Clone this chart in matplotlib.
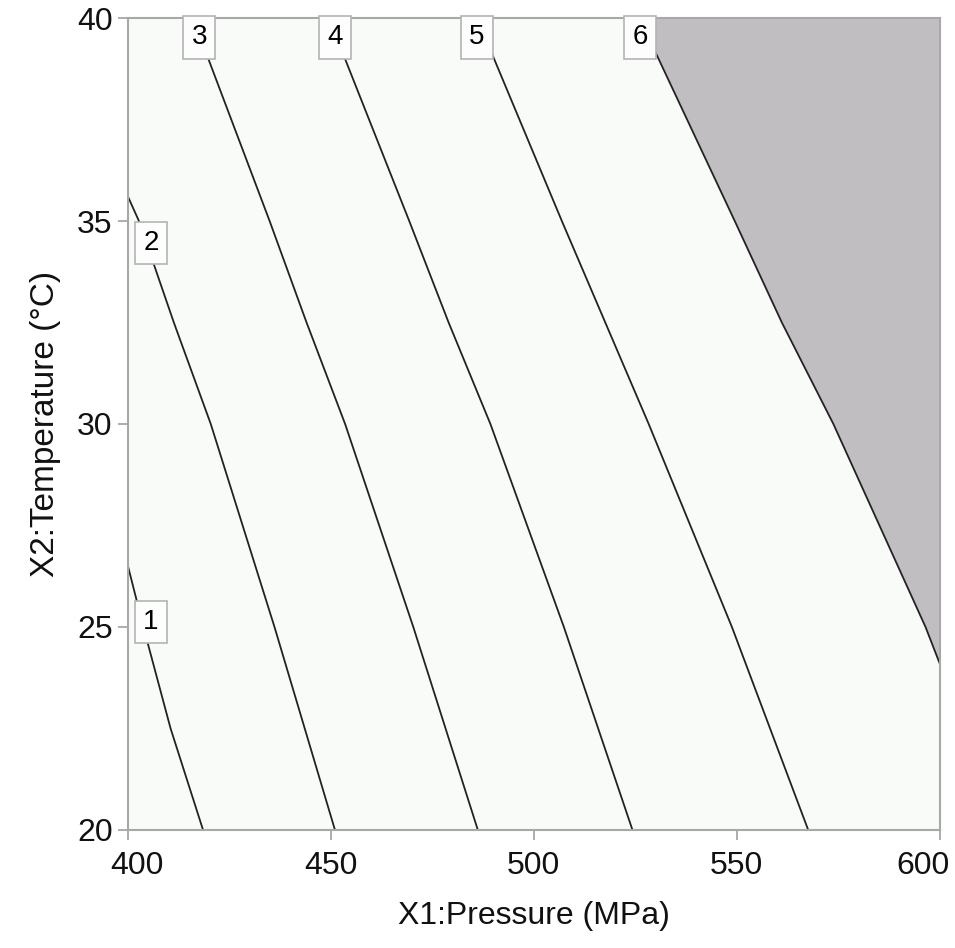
import matplotlib.pyplot as plt
import matplotlib.transforms as mtransforms

# Contour lines: temperature (y) and pressure (x) pairs
levels = [1, 2, 3, 4, 5, 6]

y1 = [26.5, 25.0, 22.5, 20.0]
x1 = [400.0, 403.8, 410.5, 418.5]

y2 = [35.6, 35.0, 32.5, 30.0, 25.0, 20.0]
x2 = [400.0, 402.7, 411.3, 420.4, 436.1, 451.0]

y3 = [40.0, 35.0, 32.5, 30.0, 25.0, 20.0]
x3 = [416.0, 434.9, 444.0, 453.5, 470.3, 486.2]

y4 = [40.0, 35.0, 32.5, 30.0, 25.0, 20.0]
x4 = [449.5, 469.3, 479.0, 489.3, 507.4, 524.3]

y5 = [40.0, 35.0, 32.5, 30.0, 25.0, 20.0]
x5 = [486.0, 506.9, 517.6, 528.3, 548.8, 567.6]

y6 = [40.0, 35.0, 32.5, 30.0, 25.0, 24.1]
x6 = [526.0, 549.5, 561.1, 573.8, 596.5, 600.0]

# label positions (pressure, temperature)
label_x = [405.7, 405.7, 417.6, 451.0, 486.0, 526.2]
label_y = [25.12, 34.46, 39.52, 39.52, 39.52, 39.52]

xticks = [400, 450, 500, 550, 600]
yticks = [20, 25, 30, 35, 40]

plt.rcParams['font.family'] = ['Liberation Sans', 'DejaVu Sans']

fig = plt.figure(figsize=(9.55, 9.48), dpi=100)
ax = fig.add_axes([0.134, 0.1245, 0.850, 0.8565])
ax.set_facecolor('#f9fbf9')

# shaded region beyond contour 6
ax.fill_betweenx(y6, x6, 600, color='#c1bec2', lw=0, zorder=1)

lines = [(x1, y1), (x2, y2), (x3, y3), (x4, y4), (x5, y5), (x6, y6)]
for xs, ys in lines:
    ax.plot(xs, ys, color='#222222', lw=1.3, zorder=2)

for lev, lx, ly in zip(levels, label_x, label_y):
    ax.text(lx, ly, str(lev), fontsize=20, ha='center', va='center', zorder=4,
            bbox=dict(boxstyle='square,pad=0.3', fc='#fdfdfd', ec='#b4b4b4', lw=1.2))

ax.set_xlim(400, 600)
ax.set_ylim(20, 40)
ax.set_xticks(xticks)
ax.set_yticks(yticks)
ax.tick_params(axis='both', labelsize=23, colors='#a0a0a0', labelcolor='#111111',
               length=7, width=1.2, direction='out')
ax.tick_params(axis='x', pad=8)
ax.tick_params(axis='y', pad=4)
for s in ax.spines.values():
    s.set_color('#a8a8a8')
    s.set_linewidth(1.5)

# end tick labels nudged inwards, as in the original
first = ax.get_xticklabels()[0]
first.set_transform(first.get_transform() + mtransforms.ScaledTranslation(0.09, 0, fig.dpi_scale_trans))
last = ax.get_xticklabels()[-1]
last.set_transform(last.get_transform() + mtransforms.ScaledTranslation(-0.17, 0, fig.dpi_scale_trans))

ax.set_xlabel('X1:Pressure (MPa)', fontsize=23, color='#111111')
ax.set_ylabel('X2:Temperature (°C)', fontsize=24, color='#111111')
ax.xaxis.set_label_coords(0.5, -0.088)
ax.yaxis.set_label_coords(-0.083, 0.5)

fig.savefig('out.png', dpi=100, facecolor='white')
